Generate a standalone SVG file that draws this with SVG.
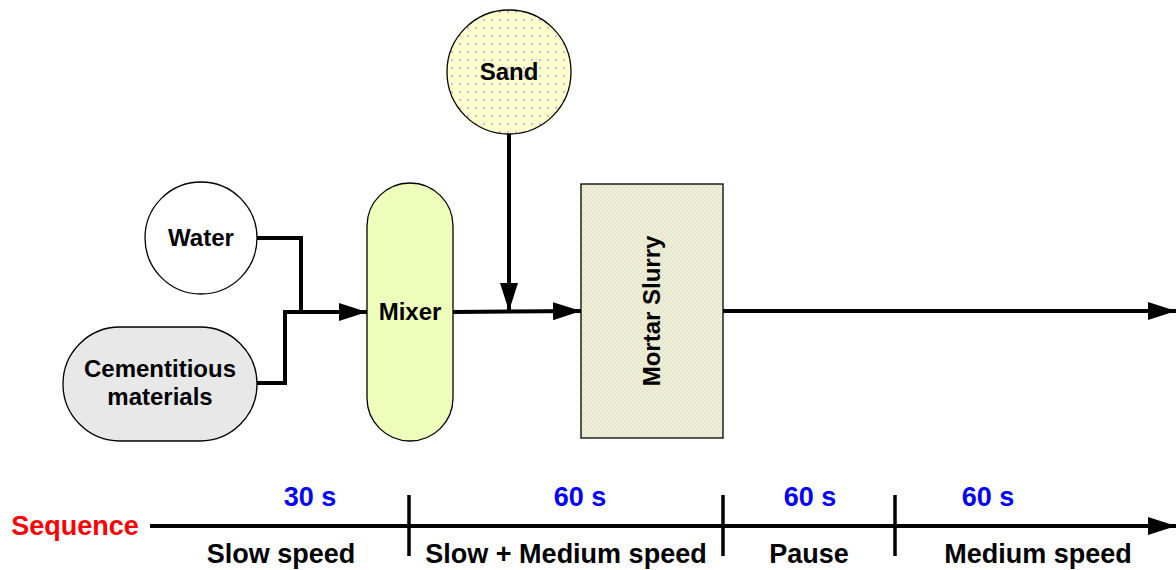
<svg xmlns="http://www.w3.org/2000/svg" width="1176" height="570" viewBox="0 0 1176 570">
<style>
.lbl{font-family:"Liberation Sans",Arial,sans-serif;font-weight:bold;fill:#000;text-anchor:middle}
.node{font-size:24px}
.seq{font-size:27px}
.time{font-size:27px;fill:#0000ff}
.ln{fill:none;stroke:#000;stroke-width:4}
.tick{stroke:#000;stroke-width:3.5}
.shape{stroke:#000;stroke-width:1.3}
</style>
<defs>
<pattern id="dots" width="8" height="8" patternUnits="userSpaceOnUse">
<rect width="8" height="8" fill="#ffffcc"/>
<circle cx="4" cy="4" r="1.1" fill="#aab4f0"/>
</pattern>
<pattern id="check" width="4" height="4" patternUnits="userSpaceOnUse">
<rect width="4" height="4" fill="#f0f0da"/>
<rect width="2" height="2" fill="#e6e6cc"/>
<rect x="2" y="2" width="2" height="2" fill="#e6e6cc"/>
</pattern>
<marker id="arr" markerUnits="userSpaceOnUse" markerWidth="28" markerHeight="18" refX="28" refY="9" orient="auto">
<path d="M0,0 L28,9 L0,18 z" fill="#000"/>
</marker>
</defs>
<g id="connectors">
<path class="ln" d="M257,238 H301 V312"/>
<path class="ln" d="M257,383 H285 V312 H367" marker-end="url(#arr)"/>
<path class="ln" d="M453,312 L581,311" marker-end="url(#arr)"/>
<path class="ln" d="M509,134 V311" marker-end="url(#arr)"/>
<path class="ln" d="M723,311 H1176" marker-end="url(#arr)"/>
</g>
<g id="sand">
<circle class="shape" cx="509" cy="72" r="62" fill="url(#dots)"/>
<text class="lbl node" x="509" y="80">Sand</text>
</g>
<g id="water">
<circle class="shape" cx="201" cy="238" r="56" fill="#fff"/>
<text class="lbl node" x="201" y="246">Water</text>
</g>
<g id="cementitious">
<rect class="shape" x="63" y="327" width="194" height="114" rx="57" ry="57" fill="#e8e8e8"/>
<text class="lbl node" x="160" y="377">Cementitious</text>
<text class="lbl node" x="160" y="405">materials</text>
</g>
<g id="mixer">
<rect class="shape" x="367" y="183" width="86" height="258" rx="43" ry="43" fill="#eeffbb"/>
<text class="lbl node" x="410" y="320">Mixer</text>
</g>
<g id="mortar">
<rect class="shape" x="581" y="184" width="142" height="254" fill="url(#check)"/>
<text class="lbl node" transform="translate(660,311) rotate(-90)" x="0" y="0">Mortar Slurry</text>
</g>
<g id="sequence">
<path class="ln" d="M150,526 H1176" marker-end="url(#arr)"/>
<line class="tick" x1="409" y1="495" x2="409" y2="556"/>
<line class="tick" x1="723" y1="495" x2="723" y2="556"/>
<line class="tick" x1="895" y1="495" x2="895" y2="556"/>
<text class="lbl seq" x="75" y="535" style="fill:#ff0000">Sequence</text>
<text class="lbl time" x="310" y="506">30 s</text>
<text class="lbl time" x="580" y="506">60 s</text>
<text class="lbl time" x="810" y="506">60 s</text>
<text class="lbl time" x="988" y="506">60 s</text>
<text class="lbl seq" x="281" y="563">Slow speed</text>
<text class="lbl seq" x="566" y="563">Slow + Medium speed</text>
<text class="lbl seq" x="809" y="563">Pause</text>
<text class="lbl seq" x="1038" y="563">Medium speed</text>
</g>
</svg>
